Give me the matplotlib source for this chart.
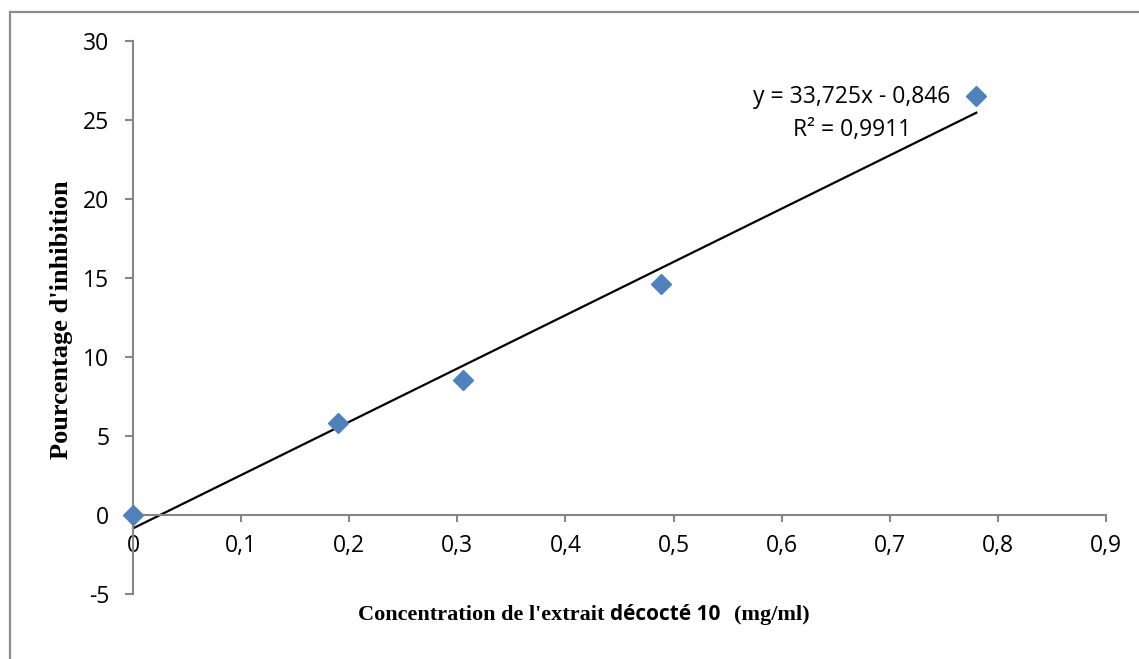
import matplotlib
matplotlib.use("Agg")
import matplotlib.pyplot as plt
from matplotlib.lines import Line2D
from matplotlib.text import Annotation
import numpy as np

# Data
concentration = [0.0, 0.19, 0.305, 0.488, 0.78]
inhibition = [0.0, 5.8, 8.55, 14.6, 26.5]
slope = 33.725
intercept = -0.846
equation_text = "y = 33,725x - 0,846"
r2_text = "R² = 0,9911"
x_ticks = [0, 0.1, 0.2, 0.3, 0.4, 0.5, 0.6, 0.7, 0.8, 0.9]
x_tick_labels = ["0", "0,1", "0,2", "0,3", "0,4", "0,5", "0,6", "0,7", "0,8", "0,9"]
y_ticks = [-5, 0, 5, 10, 15, 20, 25, 30]
y_tick_labels = ["-5", "0", "5", "10", "15", "20", "25", "30"]

W, H = 1139, 659
fig = plt.figure(figsize=(W / 100, H / 100), dpi=100)
ax = fig.add_axes([133 / W, (H - 594) / H, 973 / W, 553 / H])

axis_gray = "#868686"
sans = "Open Sans"
serif = "Liberation Serif"
tick_fs = 16.5

for s in ["top", "right"]:
    ax.spines[s].set_visible(False)
ax.spines["bottom"].set_position(("data", 0))
for s in ["left", "bottom"]:
    ax.spines[s].set_color(axis_gray)
    ax.spines[s].set_linewidth(1.5)

# Trendline
xl = np.array([concentration[0], concentration[-1]])
ax.plot(xl, slope * xl + intercept, color="black", lw=1.6, zorder=2)
# Points
ax.plot(concentration, inhibition, linestyle="none", marker="D", markersize=10.5,
        color="#4F81BD", markeredgecolor="#4F81BD", zorder=3, clip_on=False)

ax.set_xlim(0, 0.9)
ax.set_ylim(-5, 30)
ax.set_xticks(x_ticks)
ax.set_xticklabels(x_tick_labels)
ax.set_yticks(y_ticks)
ax.set_yticklabels(y_tick_labels)
for lab in ax.get_xticklabels() + ax.get_yticklabels():
    lab.set_fontfamily(sans)
    lab.set_fontsize(tick_fs)
ax.tick_params(axis="y", direction="out", length=6, width=1.5, color=axis_gray, pad=11,
               labelsize=tick_fs)
ax.tick_params(axis="x", direction="out", length=5, width=1.5, color=axis_gray, pad=9,
               labelsize=tick_fs)
ax.set_facecolor("none")

# Equation
ax.text(0.665, 26.46, equation_text, ha="center", va="center", fontfamily=sans, fontsize=tick_fs)
ax.text(0.665, 24.37, r2_text, ha="center", va="center", fontfamily=sans, fontsize=tick_fs)

# Y label
fig.text(62 / W, 1 - 320 / H, "Pourcentage d'inhibition", rotation=90, ha="center", va="center",
         fontfamily=serif, fontweight="bold", fontsize=19)

# X label with mixed fonts
base_y = (H - 620) / H
t1 = fig.text(358 / W, base_y, "Concentration de l'extrait", ha="left", va="baseline",
              fontfamily=serif, fontweight="bold", fontsize=16)
t2 = fig.add_artist(Annotation(
    "décocté 10", xy=(1, base_y), xycoords=(t1, "figure fraction"),
    xytext=(4, 0), textcoords="offset points", ha="left", va="baseline",
    fontfamily=sans, fontweight="bold", fontsize=15))
t3 = fig.add_artist(Annotation(
    "(mg/ml)", xy=(1, base_y), xycoords=(t2, "figure fraction"),
    xytext=(10, 0), textcoords="offset points", ha="left", va="baseline",
    fontfamily=serif, fontweight="bold", fontsize=16))

# Outer frame (left and top edges visible)
frame_gray = "#8c8c8c"
fig.add_artist(Line2D([10 / W, 10 / W], [0, 1 - 12 / H], transform=fig.transFigure,
                      color=frame_gray, lw=1.6))
fig.add_artist(Line2D([10 / W, 1], [1 - 12 / H, 1 - 12 / H], transform=fig.transFigure,
                      color=frame_gray, lw=1.6))

fig.savefig("out.png", dpi=100)
